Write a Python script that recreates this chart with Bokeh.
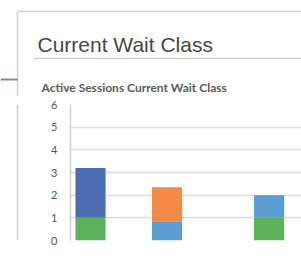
from bokeh.plotting import figure
from bokeh.layouts import column, row
from bokeh.models import Range1d, FixedTicker, Label
from bokeh.embed import file_html
from bokeh.resources import INLINE

# ---- data ----
categories = ["CPU", "Scheduler", "Concurrency", "User I/O", "System I/O", "Commit", "Network", "Other"]
cpu = [1.0, 0, 0, 0, 0, 0, 0, 1.0]
user_io = [2.2, 0, 0, 0, 0, 0, 0, 0]
system_io = [0, 0, 0, 0.85, 0, 0, 0, 1.0]
concurrency = [0, 0, 0, 1.5, 0, 0, 0, 0]
y_ticks = [0, 1, 2, 3, 4, 5, 6]
grid_ticks = [0, 1, 2, 3, 4, 5]
title_text = "Current Wait Class"
subtitle_text = "Active Sessions Current Wait Class"

series = ["cpu", "user_io", "system_io", "concurrency"]
colors = ["#5cb15a", "#4a6db4", "#5a9dd3", "#f48a45"]
BORDER = "#cfcfcf"
PURPLE = "#ad6fba"

W, H_TOP, H_BOT, W_L = 301, 96, 173, 30


def blank(width, height):
    f = figure(width=width, height=height, output_backend="svg", toolbar_location=None,
               x_range=Range1d(0, width), y_range=Range1d(height, 0),
               x_axis_location=None, y_axis_location=None,
               min_border=0, min_border_left=0, min_border_right=0,
               min_border_top=0, min_border_bottom=0)
    f.outline_line_color = None
    f.grid.visible = False
    return f


# ---- header: title, subtitle, panel borders ----
top = blank(W, H_TOP)
top.segment(x0=[17, 17, 33], y0=[11, 11, 58], x1=[W, 17, W], y1=[11, H_TOP, 58],
            line_color=BORDER, line_width=1.5)
top.segment(x0=[0], y0=[79], x1=[17], y1=[79], line_color=PURPLE, line_width=2)
top.add_layout(Label(x=37, y=44, text=title_text, text_font="Liberation Sans",
                     text_font_size="21px", text_color="#474747", text_baseline="alphabetic"))
top.add_layout(Label(x=41, y=87, text=subtitle_text, text_font="Lato", text_font_style="bold",
                     text_font_size="12px", text_color="#595959", text_baseline="alphabetic"))

# ---- left strip: panel border continues ----
left = blank(W_L, H_BOT)
left.segment(x0=[17], y0=[0], x1=[17], y1=[H_BOT], line_color=BORDER, line_width=1.5)

# ---- chart ----
x_idx = list(range(len(categories)))
source = dict(x=x_idx, cpu=cpu, user_io=user_io, system_io=system_io, concurrency=concurrency)

p = figure(width=W - W_L, height=H_BOT, output_backend="svg", toolbar_location=None,
           x_range=Range1d(-0.784, 8.27), y_range=Range1d(0, 6),
           x_axis_location=None, min_border_left=40, min_border_right=0,
           min_border_top=8, min_border_bottom=29)
p.outline_line_color = None
p.xgrid.visible = False
p.ygrid.ticker = FixedTicker(ticks=grid_ticks)
p.ygrid.grid_line_color = "#dadada"
p.ygrid.grid_line_width = 1.5

p.vbar_stack(series, x="x", width=1.18, color=colors, line_color=None, source=source)

ax = p.yaxis[0]
ax.ticker = FixedTicker(ticks=y_ticks)
ax.axis_line_color = "#d0d0d0"
ax.axis_line_width = 1.5
ax.major_tick_line_color = None
ax.minor_tick_line_color = None
ax.major_tick_out = 0
ax.major_tick_in = 0
ax.major_label_text_font = "Lato"
ax.major_label_text_font_size = "11px"
ax.major_label_text_color = "#555555"
ax.major_label_standoff = 13

layout = column(top, row(left, p, spacing=0), spacing=0)

open("out.html", "w").write(file_html(layout, INLINE))
